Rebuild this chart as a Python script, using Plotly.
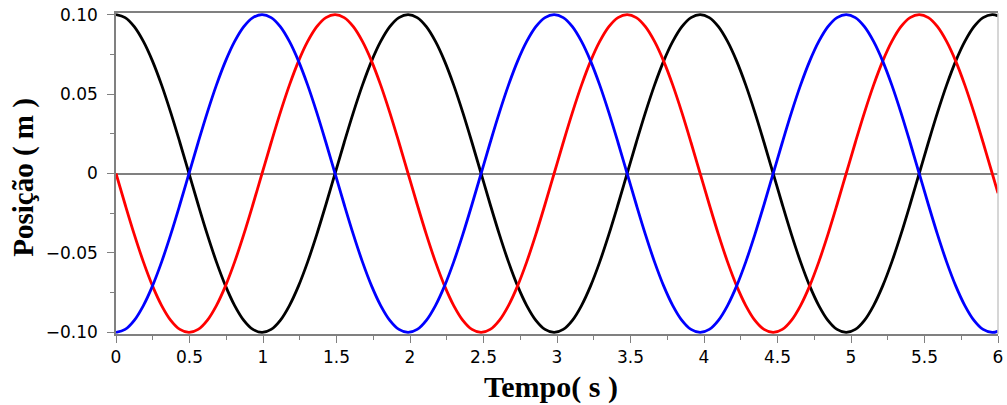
import plotly.graph_objects as go

# Time samples (s)
tempo = [0, 0.0621, 0.1242, 0.1863, 0.2484, 0.3105, 0.3725, 0.4346,
         0.4967, 0.5588, 0.6209, 0.6830, 0.7451, 0.8072, 0.8693, 0.9314,
         0.9935, 1.0556, 1.1176, 1.1797, 1.2418, 1.3039, 1.3660, 1.4281,
         1.4902, 1.5523, 1.6144, 1.6765, 1.7386, 1.8006, 1.8627, 1.9248,
         1.9869, 2.0490, 2.1111, 2.1732, 2.2353, 2.2974, 2.3595, 2.4216,
         2.4836, 2.5457, 2.6078, 2.6699, 2.7320, 2.7941, 2.8562, 2.9183,
         2.9804, 3.0425, 3.1046, 3.1667, 3.2287, 3.2908, 3.3529, 3.4150,
         3.4771, 3.5392, 3.6013, 3.6634, 3.7255, 3.7876, 3.8497, 3.9117,
         3.9738, 4.0359, 4.0980, 4.1601, 4.2222, 4.2843, 4.3464, 4.4085,
         4.4706, 4.5327, 4.5947, 4.6568, 4.7189, 4.7810, 4.8431, 4.9052,
         4.9673, 5.0294, 5.0915, 5.1536, 5.2157, 5.2778, 5.3398, 5.4019,
         5.4640, 5.5261, 5.5882, 5.6503, 5.7124, 5.7745, 5.8366, 5.8987,
         5.9608, 6.0]

# Position (m) of each oscillator
pos_preto = [0.1, 0.0981, 0.0924, 0.0831, 0.0707, 0.0556, 0.0383, 0.0195,
             0, -0.0195, -0.0383, -0.0556, -0.0707, -0.0831, -0.0924, -0.0981,
             -0.1, -0.0981, -0.0924, -0.0831, -0.0707, -0.0556, -0.0383, -0.0195,
             0, 0.0195, 0.0383, 0.0556, 0.0707, 0.0831, 0.0924, 0.0981,
             0.1, 0.0981, 0.0924, 0.0831, 0.0707, 0.0556, 0.0383, 0.0195,
             0, -0.0195, -0.0383, -0.0556, -0.0707, -0.0831, -0.0924, -0.0981,
             -0.1, -0.0981, -0.0924, -0.0831, -0.0707, -0.0556, -0.0383, -0.0195,
             0, 0.0195, 0.0383, 0.0556, 0.0707, 0.0831, 0.0924, 0.0981,
             0.1, 0.0981, 0.0924, 0.0831, 0.0707, 0.0556, 0.0383, 0.0195,
             0, -0.0195, -0.0383, -0.0556, -0.0707, -0.0831, -0.0924, -0.0981,
             -0.1, -0.0981, -0.0924, -0.0831, -0.0707, -0.0556, -0.0383, -0.0195,
             0, 0.0195, 0.0383, 0.0556, 0.0707, 0.0831, 0.0924, 0.0981,
             0.1, 0.0992]

pos_vermelho = [0, -0.0195, -0.0383, -0.0556, -0.0707, -0.0831, -0.0924, -0.0981,
                -0.1, -0.0981, -0.0924, -0.0831, -0.0707, -0.0556, -0.0383, -0.0195,
                0, 0.0195, 0.0383, 0.0556, 0.0707, 0.0831, 0.0924, 0.0981,
                0.1, 0.0981, 0.0924, 0.0831, 0.0707, 0.0556, 0.0383, 0.0195,
                0, -0.0195, -0.0383, -0.0556, -0.0707, -0.0831, -0.0924, -0.0981,
                -0.1, -0.0981, -0.0924, -0.0831, -0.0707, -0.0556, -0.0383, -0.0195,
                0, 0.0195, 0.0383, 0.0556, 0.0707, 0.0831, 0.0924, 0.0981,
                0.1, 0.0981, 0.0924, 0.0831, 0.0707, 0.0556, 0.0383, 0.0195,
                0, -0.0195, -0.0383, -0.0556, -0.0707, -0.0831, -0.0924, -0.0981,
                -0.1, -0.0981, -0.0924, -0.0831, -0.0707, -0.0556, -0.0383, -0.0195,
                0, 0.0195, 0.0383, 0.0556, 0.0707, 0.0831, 0.0924, 0.0981,
                0.1, 0.0981, 0.0924, 0.0831, 0.0707, 0.0556, 0.0383, 0.0195,
                0, -0.0124]

pos_azul = [-0.1, -0.0981, -0.0924, -0.0831, -0.0707, -0.0556, -0.0383, -0.0195,
            0, 0.0195, 0.0383, 0.0556, 0.0707, 0.0831, 0.0924, 0.0981,
            0.1, 0.0981, 0.0924, 0.0831, 0.0707, 0.0556, 0.0383, 0.0195,
            0, -0.0195, -0.0383, -0.0556, -0.0707, -0.0831, -0.0924, -0.0981,
            -0.1, -0.0981, -0.0924, -0.0831, -0.0707, -0.0556, -0.0383, -0.0195,
            0, 0.0195, 0.0383, 0.0556, 0.0707, 0.0831, 0.0924, 0.0981,
            0.1, 0.0981, 0.0924, 0.0831, 0.0707, 0.0556, 0.0383, 0.0195,
            0, -0.0195, -0.0383, -0.0556, -0.0707, -0.0831, -0.0924, -0.0981,
            -0.1, -0.0981, -0.0924, -0.0831, -0.0707, -0.0556, -0.0383, -0.0195,
            0, 0.0195, 0.0383, 0.0556, 0.0707, 0.0831, 0.0924, 0.0981,
            0.1, 0.0981, 0.0924, 0.0831, 0.0707, 0.0556, 0.0383, 0.0195,
            0, -0.0195, -0.0383, -0.0556, -0.0707, -0.0831, -0.0924, -0.0981,
            -0.1, -0.0992]

x_ticks = [0, 0.5, 1, 1.5, 2, 2.5, 3, 3.5, 4, 4.5, 5, 5.5, 6]
x_labels = ["0", "0.5", "1", "1.5", "2", "2.5", "3", "3.5", "4", "4.5", "5", "5.5", "6"]
y_ticks = [0.10, 0.05, 0, -0.05, -0.10]
y_labels = ["0.10", "0.05", "0", "\u22120.05", "\u22120.10"]

fig = go.Figure()
for ys, cor in [(pos_preto, "#000000"), (pos_vermelho, "#ff0000"), (pos_azul, "#0000ff")]:
    fig.add_trace(go.Scatter(x=tempo, y=ys, mode="lines",
                             line=dict(color=cor, width=2.8, shape="spline"),
                             showlegend=False, hoverinfo="skip"))

eixo = "#808080"
tick_font = dict(family="DejaVu Sans", size=17, color="#000000")

fig.update_layout(
    width=1007, height=405,
    margin=dict(l=116, r=4, t=13, b=71),
    paper_bgcolor="white", plot_bgcolor="white",
    xaxis=dict(range=[0, 6], showgrid=False, zeroline=False,
               showline=True, linecolor=eixo, linewidth=1.5, mirror=True,
               ticks="outside", ticklen=7, tickwidth=1.2, tickcolor=eixo,
               tickvals=x_ticks, ticktext=x_labels, tickfont=tick_font,
               ticklabeloverflow="allow",
               minor=dict(ticks="outside", ticklen=4, tickwidth=1.2,
                          tickcolor=eixo, dtick=0.25, showgrid=False)),
    yaxis=dict(range=[-0.101, 0.101], showgrid=False,
               zeroline=True, zerolinecolor=eixo, zerolinewidth=1.5,
               showline=True, linecolor=eixo, linewidth=1.5,
               ticks="outside", ticklen=7, tickwidth=1.2, tickcolor=eixo,
               tickvals=y_ticks, ticktext=y_labels, tickfont=tick_font,
               ticklabelstandoff=6,
               minor=dict(ticks="outside", ticklen=4, tickwidth=1.2,
                          tickcolor=eixo, dtick=0.025, showgrid=False)),
    shapes=[dict(type="line", xref="paper", yref="paper", x0=1, x1=1, y0=0, y1=1,
                 line=dict(color="#c8c8c8", width=1.5))],
    annotations=[
        dict(text="<b>Tempo( s )</b>", xref="paper", yref="paper",
             x=0.4927, y=-0.166, xanchor="center", yanchor="middle", showarrow=False,
             font=dict(family="Liberation Serif", size=30, color="#000000")),
        dict(text="<b>Posição ( m )</b>", xref="paper", yref="paper",
             x=-0.105, y=0.488, xanchor="center", yanchor="middle", showarrow=False,
             textangle=-90,
             font=dict(family="Liberation Serif", size=29, color="#000000")),
    ],
)

fig.write_html("out.html")
